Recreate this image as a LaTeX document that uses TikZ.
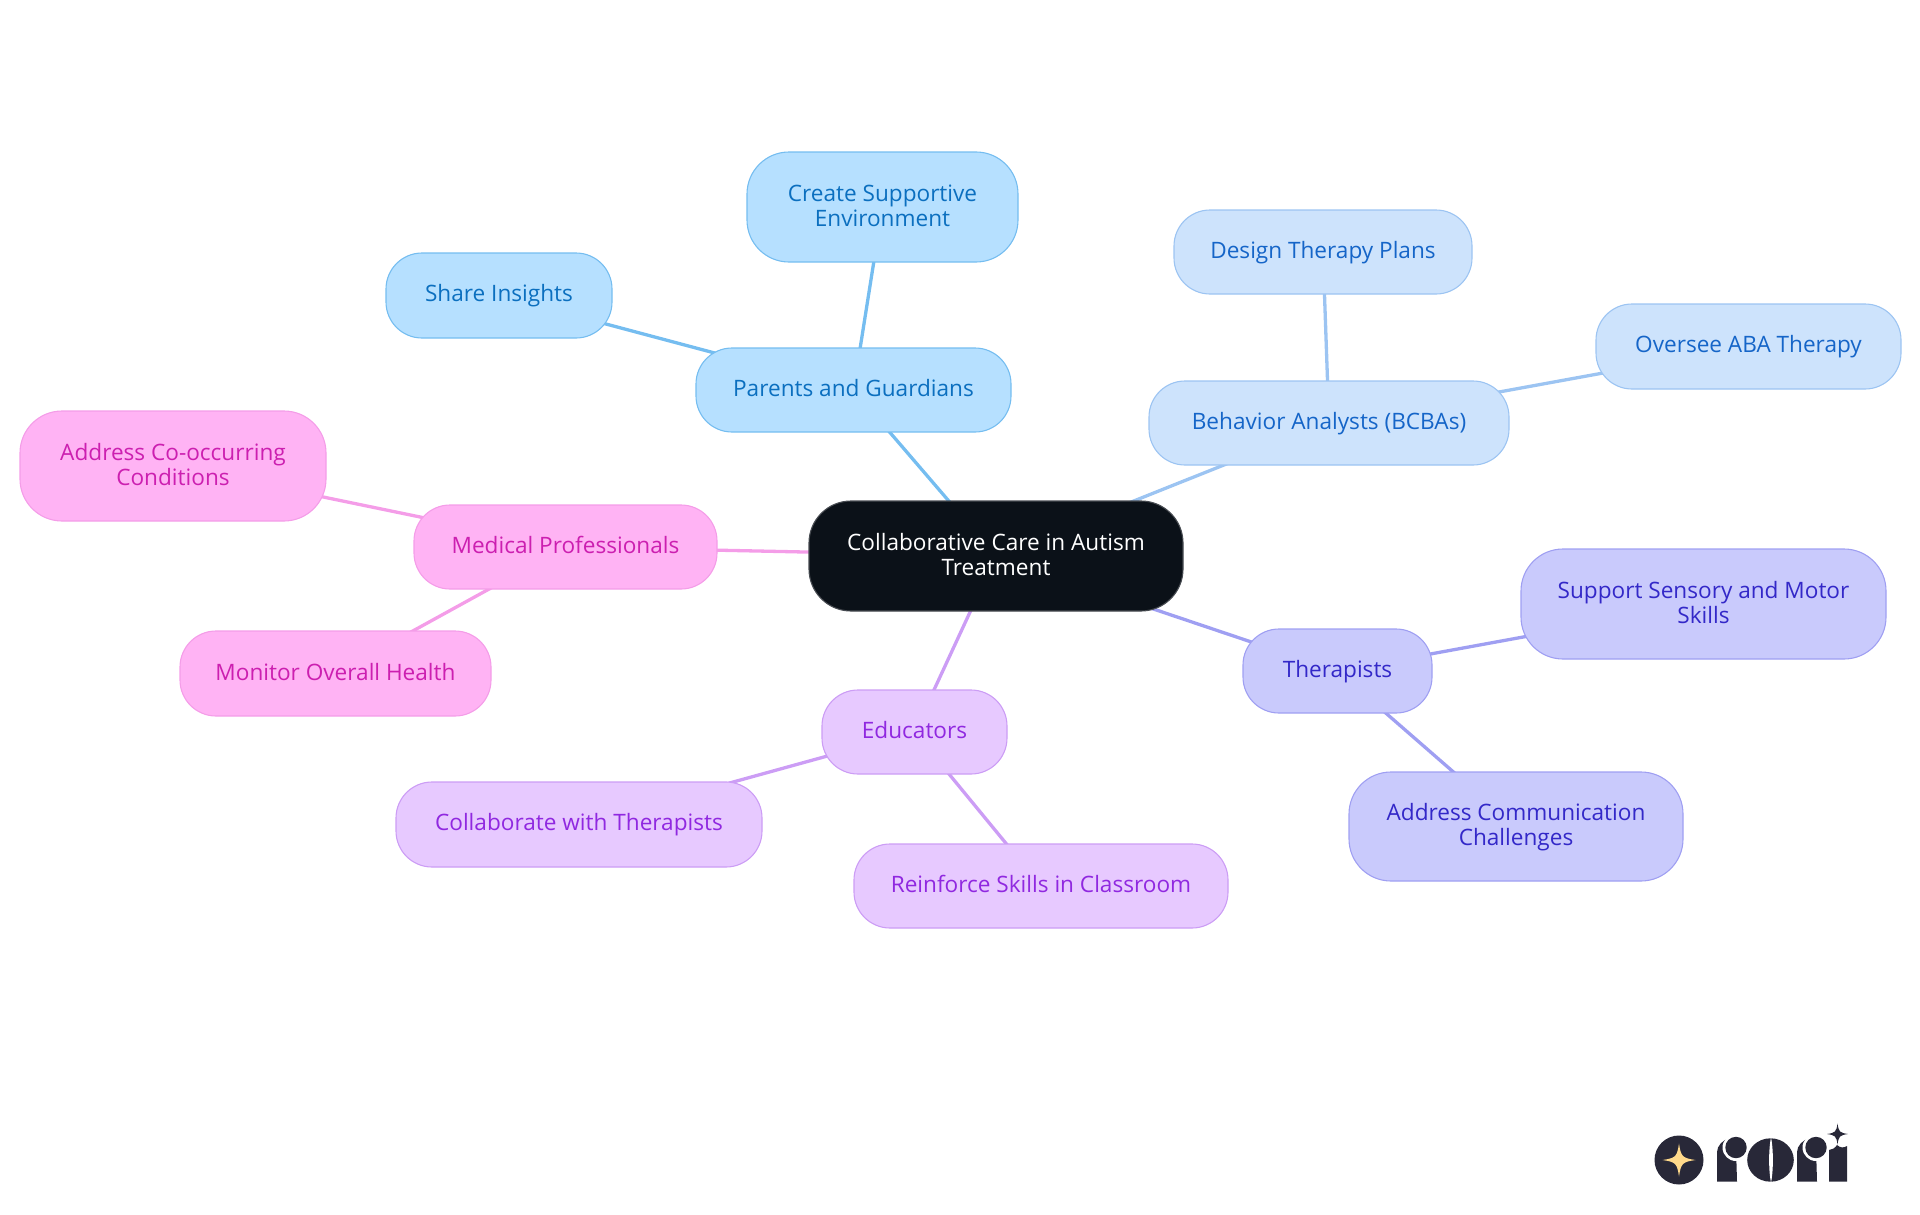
\documentclass[tikz,border=0pt]{standalone}
\usepackage{fontspec}
\setmainfont{Open Sans}
\usetikzlibrary{backgrounds}
\definecolor{c1f}{HTML}{B6E0FF}\definecolor{c1l}{HTML}{75BDF0}\definecolor{c1t}{HTML}{0B6FBF}
\definecolor{c2f}{HTML}{CDE3FC}\definecolor{c2l}{HTML}{9CC4F2}\definecolor{c2t}{HTML}{1565C8}
\definecolor{c3f}{HTML}{C9CAFC}\definecolor{c3l}{HTML}{9F9FF2}\definecolor{c3t}{HTML}{3328C8}
\definecolor{c4f}{HTML}{E7C9FF}\definecolor{c4l}{HTML}{CC9DF5}\definecolor{c4t}{HTML}{9028E0}
\definecolor{c5f}{HTML}{FFB3F4}\definecolor{c5l}{HTML}{F49DE8}\definecolor{c5t}{HTML}{CC1FB0}
\definecolor{rootc}{HTML}{0B1118}\definecolor{logoc}{HTML}{282838}\definecolor{stary}{HTML}{FFD98A}
\tikzset{x=1pt,y=-1pt,
  box/.style={rectangle,inner sep=0pt,align=center,line width=1.1pt,font=\fontsize{22.6}{25}\selectfont},
  small/.style={box,rounded corners=36pt},
  big/.style={box,rounded corners=42pt},
  rootbox/.style={big,fill=rootc,draw=rootc!75!white,text=white},
  fa/.style={fill=c1f,draw=c1l,text=c1t},
  fb/.style={fill=c2f,draw=c2l,text=c2t},
  fc/.style={fill=c3f,draw=c3l,text=c3t},
  fd/.style={fill=c4f,draw=c4l,text=c4t},
  fe/.style={fill=c5f,draw=c5l,text=c5t},
  edge/.style={line width=3.3pt}
}
\newcommand{\bx}[7]{% name, style, x0,x1,y0,y1,text
  \node[#2,minimum width={#4pt-#3pt},minimum height={#6pt-#5pt}] (#1) at ({(#3+#4)/2},{(#5+#6)/2}) {\rule{0pt}{18pt}#7\rule[-5pt]{0pt}{5pt}};}
\newcommand{\fourstar}[4]{% x,y,r,colour
  \fill[#4] (#1-#3,#2) .. controls (#1-#3*0.2,#2-#3*0.12) and (#1-#3*0.12,#2-#3*0.2) .. (#1,#2-#3)
   .. controls (#1+#3*0.12,#2-#3*0.2) and (#1+#3*0.2,#2-#3*0.12) .. (#1+#3,#2)
   .. controls (#1+#3*0.2,#2+#3*0.12) and (#1+#3*0.12,#2+#3*0.2) .. (#1,#2+#3)
   .. controls (#1-#3*0.12,#2+#3*0.2) and (#1-#3*0.2,#2+#3*0.12) .. (#1-#3,#2) -- cycle;}
\newcommand{\logor}[1]{% left x of letter r
  \fill[logoc] (#1,1181.5) -- (#1,1152) .. controls (#1,1146) and (#1+6,1139) .. (#1+13,1138.5) -- (#1+19,1147) -- (#1+20,1181.5) -- cycle;
  \fill[white] (#1+19,1147.5) circle (13.5);
  \fill[logoc] (#1+19,1147.5) circle (10.7);}
\begin{document}
\begin{tikzpicture}
\useasboundingbox (0,0) rectangle (1920,1215);
\bx{root}{rootbox}{809}{1183}{501}{611}{Collaborative Care in Autism\\Treatment}
\bx{par}{small,fa}{696}{1011}{348}{432}{Parents and Guardians}
\bx{sup}{big,fa}{747}{1018}{152}{262}{Create Supportive\\Environment}
\bx{sha}{small,fa}{386}{612}{253}{338}{Share Insights}
\bx{beh}{small,fb}{1149}{1509}{381}{465}{Behavior Analysts (BCBAs)}
\bx{des}{small,fb}{1174}{1472}{210}{294}{Design Therapy Plans}
\bx{ove}{small,fb}{1596}{1901}{304}{389}{Oversee ABA Therapy}
\bx{the}{small,fc}{1243}{1432}{629}{713}{Therapists}
\bx{ssm}{big,fc}{1521}{1886}{549}{659}{Support Sensory and Motor\\Skills}
\bx{acc}{big,fc}{1349}{1683}{772}{881}{Address Communication\\Challenges}
\bx{edu}{small,fd}{822}{1007}{690}{774}{Educators}
\bx{col}{small,fd}{396}{762}{782}{867}{Collaborate with Therapists}
\bx{rei}{small,fd}{854}{1228}{844}{928}{Reinforce Skills in Classroom}
\bx{med}{small,fe}{414}{717}{505}{589}{Medical Professionals}
\bx{aco}{big,fe}{20}{326}{411}{521}{Address Co-occurring\\Conditions}
\bx{mon}{small,fe}{180}{491}{631}{716}{Monitor Overall Health}
\begin{pgfonlayer}{background}
\draw[edge,c1l] (root.center) -- (par.center);
\draw[edge,c1l] (par.center) -- (sup.center);
\draw[edge,c1l] (par.center) -- (sha.center);
\draw[edge,c2l] (root.center) -- (beh.center);
\draw[edge,c2l] (beh.center) -- (des.center);
\draw[edge,c2l] (beh.center) -- (ove.center);
\draw[edge,c3l] (root.center) -- (the.center);
\draw[edge,c3l] (the.center) -- (ssm.center);
\draw[edge,c3l] (the.center) -- (acc.center);
\draw[edge,c4l] (root.center) -- (edu.center);
\draw[edge,c4l] (edu.center) -- (col.center);
\draw[edge,c4l] (edu.center) -- (rei.center);
\draw[edge,c5l] (root.center) -- (med.center);
\draw[edge,c5l] (med.center) -- (aco.center);
\draw[edge,c5l] (med.center) -- (mon.center);
\end{pgfonlayer}
% logo
\fill[logoc] (1679,1160) circle (24.5);
\fourstar{1679}{1160}{16.5}{stary}
\logor{1717}
\fill[logoc] (1770.5,1160) ellipse (23.3 and 21.7);
\fill[white] (1771,1137) .. controls (1768.5,1150) and (1768.5,1170) .. (1771,1183) .. controls (1773.5,1170) and (1773.5,1150) .. (1771,1137) -- cycle;
\logor{1797}
\fill[logoc] (1829,1181.5) -- (1829,1150) .. controls (1832,1150) and (1835,1148) .. (1837,1145) .. controls (1840,1148) and (1844,1148) .. (1847,1146) -- (1847,1181.5) -- cycle;
\fourstar{1837.5}{1134}{10.5}{logoc}
\end{tikzpicture}
\end{document}
